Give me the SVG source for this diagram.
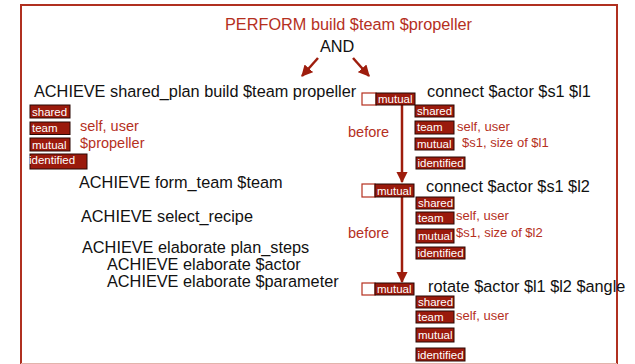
<svg xmlns="http://www.w3.org/2000/svg" width="635" height="364" viewBox="0 0 635 364">
  <defs>
    <marker id="head" viewBox="0 0 10 10" refX="9" refY="5" markerWidth="4.6" markerHeight="4.6" orient="auto" markerUnits="strokeWidth">
      <path d="M0,0 L10,5 L0,10 z" fill="#9e1d0d"/>
    </marker>
    <style>
      text { font-family: "Liberation Sans", Arial, sans-serif; }
      .title { font-size: 16.3px; fill: #111; }
      .red { fill: #b5301e; }
      .note { font-size: 14.5px; fill: #b5301e; }
      .note-s { font-size: 13px; fill: #b5301e; }
      .tag rect { fill: #9a1a0c; stroke: #2a0805; stroke-width: 1; }
      .tag text { font-size: 11.5px; fill: #ffffff; }
      .slot { fill: #ffffff; stroke: #b5301e; stroke-width: 1.2; }
      .link { stroke: #9e1d0d; stroke-width: 2.5; fill: none; marker-end: url(#head); }
    </style>
  </defs>

  <rect width="635" height="364" fill="#ffffff"/>
  <!-- frame: left, top and right sides, with a faint bottom edge -->
  <path d="M21,364 V5 H617 V364" fill="none" stroke="#b03020" stroke-width="2"/>
  <line x1="21" y1="363.5" x2="617" y2="363.5" stroke="#e2b4ac" stroke-width="1"/>

  <!-- root goal -->
  <g id="perform">
    <text x="225" y="30" class="title red">PERFORM build $team $propeller</text>
    <text x="320" y="52" class="title">AND</text>
  </g>

  <!-- connectors -->
  <g id="connectors">
    <line class="link" x1="318" y1="58" x2="302" y2="76"/>
    <line class="link" x1="353" y1="58" x2="369" y2="76"/>
    <line class="link" x1="402" y1="105" x2="402" y2="182"/>
    <line class="link" x1="402" y1="197" x2="402" y2="282"/>
    <text x="348" y="137" class="note">before</text>
    <text x="348" y="238" class="note">before</text>
  </g>

  <!-- shared plan branch -->
  <g id="shared-plan">
    <text x="34" y="97" class="title">ACHIEVE shared_plan build $team propeller</text>
    <g class="tag"><rect x="30" y="105" width="40" height="13"/><text x="32" y="115.5">shared</text></g>
    <g class="tag"><rect x="30" y="122" width="40" height="12.5"/><text x="32" y="132">team</text></g>
    <g class="tag"><rect x="30" y="138" width="40" height="13"/><text x="32" y="148.5">mutual</text></g>
    <g class="tag"><rect x="30" y="154" width="57" height="15"/><text x="29" y="164">identified</text></g>
    <text x="80" y="131" class="note">self, user</text>
    <text x="80" y="148" class="note">$propeller</text>
  </g>

  <g id="form-team"><text x="79" y="188" class="title">ACHIEVE form_team $team</text></g>
  <g id="select-recipe"><text x="81" y="222" class="title">ACHIEVE select_recipe</text></g>
  <g id="elaborate">
    <text x="82" y="253" class="title">ACHIEVE elaborate plan_steps</text>
    <text x="107" y="270" class="title">ACHIEVE elaborate $actor</text>
    <text x="107" y="287" class="title">ACHIEVE elaborate $parameter</text>
  </g>

  <!-- step 1 -->
  <g id="connect-l1">
    <rect class="slot" x="362" y="93" width="14" height="12"/>
    <g class="tag"><rect x="376" y="93" width="39" height="12"/><text x="378" y="103">mutual</text></g>
    <text x="427" y="97" class="title">connect $actor $s1 $l1</text>
    <g class="tag"><rect x="415" y="105" width="39" height="12"/><text x="417" y="115">shared</text></g>
    <g class="tag"><rect x="415" y="121" width="39" height="13"/><text x="417" y="131">team</text></g>
    <g class="tag"><rect x="415" y="138" width="39" height="12"/><text x="417" y="148">mutual</text></g>
    <g class="tag"><rect x="416" y="157" width="49" height="12"/><text x="417.5" y="167">identified</text></g>
    <text x="457" y="131" class="note-s">self, user</text>
    <text x="462" y="147" class="note-s">$s1, size of $l1</text>
  </g>

  <!-- step 2 -->
  <g id="connect-l2">
    <rect class="slot" x="362" y="184" width="13" height="13"/>
    <g class="tag"><rect x="375" y="184" width="39" height="13"/><text x="377" y="194.5">mutual</text></g>
    <text x="426" y="192" class="title">connect $actor $s1 $l2</text>
    <g class="tag"><rect x="416" y="197" width="38" height="12"/><text x="418" y="207">shared</text></g>
    <g class="tag"><rect x="416" y="212" width="38" height="12"/><text x="418" y="222">team</text></g>
    <g class="tag"><rect x="416" y="229" width="38" height="14"/><text x="418" y="240">mutual</text></g>
    <g class="tag"><rect x="416" y="247" width="49" height="12"/><text x="417.5" y="257">identified</text></g>
    <text x="456" y="220" class="note-s">self, user</text>
    <text x="456" y="237" class="note-s">$s1, size of $l2</text>
  </g>

  <!-- step 3 -->
  <g id="rotate">
    <rect class="slot" x="362" y="283" width="13" height="12"/>
    <g class="tag"><rect x="375" y="283" width="39" height="12"/><text x="377" y="293">mutual</text></g>
    <text x="428" y="292" class="title">rotate $actor $l1 $l2 $angle</text>
    <g class="tag"><rect x="416" y="296" width="38" height="12"/><text x="418" y="306">shared</text></g>
    <g class="tag"><rect x="416" y="311" width="38" height="12"/><text x="418" y="321">team</text></g>
    <g class="tag"><rect x="416" y="328" width="38" height="14"/><text x="418" y="339">mutual</text></g>
    <g class="tag"><rect x="416" y="348" width="49" height="13"/><text x="417.5" y="358.5">identified</text></g>
    <text x="456" y="320" class="note-s">self, user</text>
  </g>
</svg>
